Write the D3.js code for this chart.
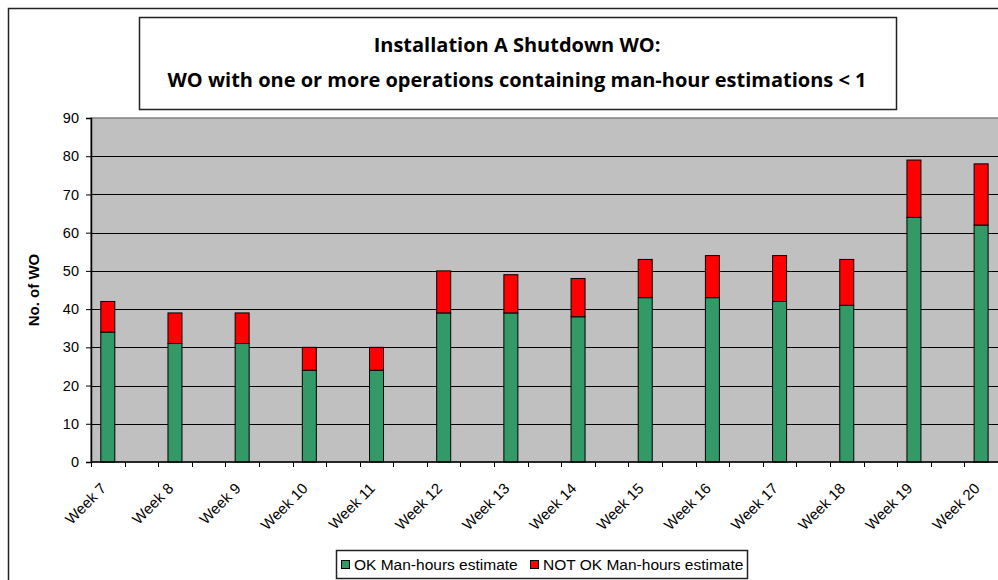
<!DOCTYPE html>
<html>
<head>
<meta charset="utf-8">
<script src="https://cdnjs.cloudflare.com/ajax/libs/d3/7.8.5/d3.min.js"></script>
<style>
    body { margin: 0; background: #fff; }
    svg { display: block; }
    text { font-family: "Liberation Sans", Arial, sans-serif; fill: #000; }
</style>
</head>
<body>
<div id="chart"></div>
<script>

// chart data
//====================
var weeks = ["Week 7", "Week 8", "Week 9", "Week 10", "Week 11", "Week 12", "Week 13",
    "Week 14", "Week 15", "Week 16", "Week 17", "Week 18", "Week 19", "Week 20"];
var okEstimate = [34, 31, 31, 24, 24, 39, 39, 38, 43, 43, 42, 41, 64, 62];
var notOkEstimate = [8, 8, 8, 6, 6, 11, 10, 10, 10, 11, 12, 12, 15, 16];
var yTicks = [0, 10, 20, 30, 40, 50, 60, 70, 80, 90];
var seriesNames = ["OK Man-hours estimate", "NOT OK Man-hours estimate"];
var seriesColors = ["#339966", "#FF0000"];

var svgWidth = 998;
var svgHeight = 580;

// plot area (runs past the right edge, like the original crop)
var plot = { left: 91, top: 118, bottom: 462, right: 1031.5 };

var svg = d3.select("#chart")
    .append("svg")
    .attr("width", svgWidth)
    .attr("height", svgHeight);

// outer chart border
svg.append("rect")
    .attr("x", 8.5)
    .attr("y", 8.5)
    .attr("width", 1100)
    .attr("height", 700)
    .attr("fill", "#fff")
    .attr("stroke", "#222")
    .attr("stroke-width", 1.5);

// Step 1: scales
// ==============================
var xBand = d3.scaleBand()
    .domain(weeks)
    .range([plot.left, plot.right])
    .padding(0);

var yLinearScale = d3.scaleLinear()
    .domain([0, 90])
    .range([plot.bottom, plot.top]);

var bw = xBand.bandwidth();
var barWidth = 14;

// bar sits in the first half of each category
function barCenter(w) {
    return xBand(w) + bw / 4;
}

// Step 2: plot background + gridlines
// ==============================
svg.append("rect")
    .attr("x", plot.left)
    .attr("y", plot.top)
    .attr("width", plot.right - plot.left)
    .attr("height", plot.bottom - plot.top)
    .attr("fill", "#C0C0C0")
    .attr("stroke", "#808080")
    .attr("stroke-width", 1.5);

svg.append("g")
    .selectAll("line")
    .data(yTicks.filter(d => d > 0 && d < 90))
    .enter()
    .append("line")
    .attr("x1", plot.left)
    .attr("x2", plot.right)
    .attr("y1", d => Math.round(yLinearScale(d)) + 0.5)
    .attr("y2", d => Math.round(yLinearScale(d)) + 0.5)
    .attr("stroke", "#000")
    .attr("stroke-width", 1);

// Step 3: stacked bars
// ==============================
var rows = weeks.map(function (w, i) {
    return { week: w, ok: okEstimate[i], notOk: notOkEstimate[i] };
});
var stacked = d3.stack().keys(["ok", "notOk"])(rows);

svg.append("g")
    .selectAll("g")
    .data(stacked)
    .enter()
    .append("g")
    .attr("fill", (d, i) => seriesColors[i])
    .selectAll("rect")
    .data(d => d)
    .enter()
    .append("rect")
    .attr("x", d => barCenter(d.data.week) - barWidth / 2)
    .attr("y", d => yLinearScale(d[1]))
    .attr("width", barWidth)
    .attr("height", d => yLinearScale(d[0]) - yLinearScale(d[1]))
    .attr("stroke", "#000")
    .attr("stroke-width", 1);

// Step 4: axes
// ==============================
var leftAxis = d3.axisLeft(yLinearScale)
    .tickValues(yTicks)
    .tickSize(5)
    .tickPadding(7);

var yAxisG = svg.append("g")
    .attr("transform", `translate(${plot.left}, 0)`)
    .call(leftAxis);
yAxisG.select(".domain").attr("stroke", "#000").attr("stroke-width", 1.5);
yAxisG.selectAll(".tick line").attr("stroke", "#000");
yAxisG.selectAll(".tick text")
    .style("font-family", "Liberation Sans, Arial, sans-serif")
    .style("font-size", "14.5px")
    .attr("fill", "#000");

// x axis: tick marks every half category, labels under the bars
var halfTicks = [];
weeks.forEach(function (w) {
    halfTicks.push(xBand(w));
    halfTicks.push(xBand(w) + bw / 2);
});

var xAxisG = svg.append("g");
xAxisG.append("line")
    .attr("x1", plot.left)
    .attr("x2", plot.right)
    .attr("y1", plot.bottom)
    .attr("y2", plot.bottom)
    .attr("stroke", "#000")
    .attr("stroke-width", 1.5);

xAxisG.selectAll(".xtick")
    .data(halfTicks)
    .enter()
    .append("line")
    .attr("class", "xtick")
    .attr("x1", d => Math.round(d) + 0.5)
    .attr("x2", d => Math.round(d) + 0.5)
    .attr("y1", plot.bottom)
    .attr("y2", plot.bottom + 5)
    .attr("stroke", "#000");

xAxisG.selectAll(".xlabel")
    .data(weeks)
    .enter()
    .append("text")
    .attr("class", "xlabel")
    .attr("transform", d => `translate(${barCenter(d) - 8}, ${plot.bottom + 20}) rotate(-45)`)
    .attr("text-anchor", "end")
    .attr("dy", "0.7em")
    .style("font-size", "15px")
    .text(d => d);

// Step 5: axis title
// ==============================
svg.append("text")
    .attr("transform", `translate(39, ${(plot.top + plot.bottom) / 2}) rotate(-90)`)
    .attr("text-anchor", "middle")
    .style("font-size", "15px")
    .style("font-weight", "bold")
    .text("No. of WO");

// Step 6: title box
// ==============================
svg.append("rect")
    .attr("x", 139.5)
    .attr("y", 17.5)
    .attr("width", 757)
    .attr("height", 92)
    .attr("fill", "#fff")
    .attr("stroke", "#222")
    .attr("stroke-width", 1.5);

var titleLines = ["Installation A Shutdown WO:",
    "WO with one or more operations containing man-hour estimations < 1"];

svg.append("g")
    .selectAll("text")
    .data(titleLines)
    .enter()
    .append("text")
    .attr("x", 517)
    .attr("y", (d, i) => 52 + i * 35)
    .attr("text-anchor", "middle")
    .style("font-family", "Open Sans, sans-serif")
    .style("font-size", "20px")
    .style("font-weight", "bold")
    .text(d => d);

// Step 7: legend
// ==============================
var legend = svg.append("g");
legend.append("rect")
    .attr("x", 336.5)
    .attr("y", 550.5)
    .attr("width", 411)
    .attr("height", 28)
    .attr("fill", "#fff")
    .attr("stroke", "#222")
    .attr("stroke-width", 1.5);

var legendX = [341, 530];
var legendItems = legend.selectAll(".item")
    .data(seriesNames)
    .enter()
    .append("g")
    .attr("class", "item")
    .attr("transform", (d, i) => `translate(${legendX[i]}, 560)`);

legendItems.append("rect")
    .attr("x", 0.5)
    .attr("y", 0.5)
    .attr("width", 8)
    .attr("height", 8)
    .attr("fill", (d, i) => seriesColors[i])
    .attr("stroke", "#000");

legendItems.append("text")
    .attr("x", 13)
    .attr("y", 10)
    .style("font-size", "15.5px")
    .text(d => d);

</script>
</body>
</html>
